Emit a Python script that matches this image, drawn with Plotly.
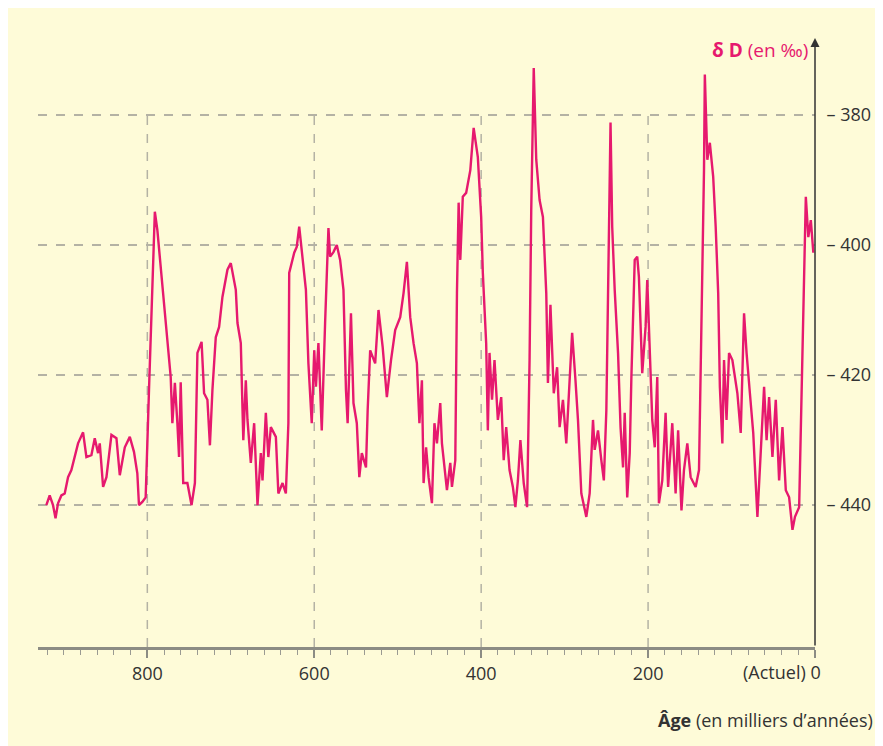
import plotly.graph_objects as go

# Age (thousands of years before present)
age = [921,917,913,910,907,903,899,895,891,887,883,877,873,867,863,859,857,853,849,843,
       837,833,827,821,816,812,810,806,802,798,794,791,788,784,780,776,772,770,767,764,
       762,760,757,752,747,743,740,735,732,728,725,722,718,714,710,704,700,694,
       692,688,685,682,680,676,672,668,664,662,658,655,652,646,643,638,634,631,630,624,
       621,618,615,610,607,603,600,598,595,591,587,583,581,577,573,569,565,562,560,556,
       553,549,546,543,538,536,533,527,523,518,513,508,503,497,493,489,485,481,477,474,
       471,469,466,463,459,456,453,449,447,441,437,435,431,429,427,425,422,418,413,409,
       404,400,398,394,392,390,387,384,380,376,373,370,366,362,359,356,353,349,345,342,
       340,337,334,330,326,322,320,317,313,309,306,302,298,296,291,287,284,280,274,270,
       266,264,260,256,253,250,248,245,243,240,236,233,230,228,225,222,220,216,213,211,
       207,203,201,197,195,192,189,187,183,179,176,171,167,164,160,157,153,149,143,139,
       136,133,132,129,126,122,119,116,114,111,109,106,103,99,93,89,85,82,78,74,
       69,65,61,58,55,51,47,43,39,35,31,27,24,19,16,13,11,8,5,2]

# Deuterium ratio δD (‰)
delta_d = [-440,-438.5,-440,-442,-439.7,-438.5,-438.2,-435.7,-434.6,-432.6,
           -430.5,-428.8,-432.6,-432.3,-429.7,-432,-430.5,-437.2,-435.7,-429.2,
           -429.7,-435.4,-431.1,-429.5,-431.8,-435.1,-440,-439.5,-438.8,-422.3,
           -408,-394.9,-397.7,-403.4,-408.9,-415.7,-420.3,-427.4,-421.2,-427.4,
           -432.6,-421.1,-436.6,-436.6,-440,-436.6,-416.6,-414.9,-422.8,-423.8,
           -430.8,-422.3,-414.2,-412.6,-408,-403.8,-402.8,-406.9,
           -412,-415.1,-430,-420.8,-426.9,-433.5,-427.4,-440,-432,-436.2,
           -425.8,-432.6,-428,-429.5,-438.2,-436.6,-438.2,-427.4,-404.3,-401.2,
           -400.3,-397.2,-400.8,-406.9,-418.2,-427.4,-416.2,-421.8,-415.1,-428.5,
           -412,-397.4,-401.8,-401.1,-400,-402.3,-406.9,-422.3,-427.4,-410.5,
           -424.3,-427.4,-435.7,-432,-434.2,-425.4,-416.2,-418.2,-410,-415.7,
           -423.4,-417.7,-413.1,-411.1,-407.4,-402.6,-411.1,-415.1,-418.2,-427.4,
           -420.8,-436.6,-431.1,-435.7,-439.7,-427.4,-430.5,-424.3,-430.5,-437.7,
           -433.5,-437.2,-433.1,-407.4,-393.5,-402.3,-392.6,-392,-388.5,-382,
           -386.5,-395.7,-404.3,-415.1,-428.5,-416.6,-423.8,-417.7,-426.9,-423.4,
           -433.1,-428,-434.6,-437.2,-440.3,-436.2,-430,-436.6,-440.3,-417.7,
           -394.6,-372.8,-386.9,-393.1,-395.7,-407.4,-421.2,-409.2,-422.8,-418.8,
           -428,-423.8,-430.5,-425.4,-413.5,-420.8,-426.9,-438.2,-441.8,-438.2,
           -426.9,-431.5,-428.5,-433.1,-436.2,-425.4,-407.4,-381.2,-397.2,-406.9,
           -416.6,-428,-434.2,-425.8,-438.8,-432,-420.3,-402.3,-401.8,-404.9,
           -419.7,-412.6,-405.4,-420.3,-426.9,-431.1,-420.3,-439.7,-436.2,-425.8,
           -437.2,-427.4,-438.2,-428.5,-440.8,-434.6,-430.5,-435.7,-437.2,-434.6,
           -412.6,-388.5,-373.8,-386.9,-384.3,-389.5,-397.2,-407.4,-421.8,-430.5,
           -417.7,-426.9,-416.6,-417.7,-422.8,-428.9,-410.5,-416.6,-422.8,-428.9,
           -441.8,-431.5,-421.8,-430,-423.4,-432.6,-423.8,-436.2,-428,-437.7,
           -438.8,-443.8,-441.8,-440.3,-420.3,-402.3,-392.6,-398.8,-396.2,-401.2]

x_ticks = [800, 600, 400, 200, 0]
x_ticklabels = ["800", "600", "400", "200", ""]
y_ticks = [-380, -400, -420, -440]
y_ticklabels = ["– 380", "– 400", "– 420", "– 440"]

X_RANGE = [931, 0]
Y_RANGE = [-461.8, -368.5]
PINK = "#E6196E"
CREAM = "#FEFBD8"
GRID = "#B4B2A4"
FONT = "Open Sans"

fig = go.Figure()
fig.add_trace(go.Scatter(x=age, y=delta_d, mode="lines",
                         line=dict(color=PINK, width=2.4), hoverinfo="skip",
                         showlegend=False))

shapes = [
    dict(type="rect", xref="paper", yref="paper", x0=-0.041, x1=1.1, y0=-0.2, y1=1.056,
         fillcolor=CREAM, line=dict(color="#DCDCD0", width=1), layer="below"),
]
for xv in x_ticks[:-1]:
    shapes.append(dict(type="line", xref="x", yref="y", x0=xv, x1=xv,
                       y0=Y_RANGE[0], y1=y_ticks[0],
                       line=dict(color=GRID, width=1.5, dash="dash"), layer="below"))

fig.update_layout(
    width=875, height=738,
    margin=dict(l=30, r=65, t=32, b=99),
    paper_bgcolor="white", plot_bgcolor=CREAM,
    font=dict(family=FONT, color="#333333", size=18),
    shapes=shapes,
    xaxis=dict(range=X_RANGE, tickvals=x_ticks, ticktext=x_ticklabels,
               showgrid=False, zeroline=False,
               showline=True, linecolor="#8C8C84", linewidth=3,
               ticks="outside", ticklen=8, tickcolor="#8C8C84", tickwidth=1.5,
               minor=dict(dtick=20, ticks="outside", ticklen=5, tickcolor="#9A9A92", tickwidth=1.2),
               tickfont=dict(size=18, color="#333333")),
    yaxis=dict(range=Y_RANGE, side="right", tickvals=y_ticks, ticktext=y_ticklabels,
               showgrid=True, gridcolor=GRID, griddash="dash", gridwidth=1.5,
               zeroline=False, showline=False,
               ticks="outside", ticklen=7, tickcolor="rgba(0,0,0,0)",
               tickfont=dict(size=18, color="#333333")),
    annotations=[
        dict(x=0, y=Y_RANGE[1] + 0.3, ax=0, ay=Y_RANGE[0], xref="x", yref="y",
             axref="x", ayref="y", text="", showarrow=True, arrowhead=2,
             arrowsize=1.2, arrowwidth=1.5, arrowcolor="#333333"),
        dict(x=0, y=Y_RANGE[1], xref="x", yref="y", xanchor="right", yanchor="top",
             xshift=-5, yshift=5, showarrow=False,
             text="<b>δ D</b> (en ‰)", font=dict(color=PINK, size=19)),
        dict(x=0, y=0, xref="x", yref="paper", xanchor="right", yanchor="top",
             xshift=8, yshift=-11, showarrow=False, text="(Actuel) 0",
             font=dict(size=18, color="#333333")),
        dict(x=1.077, y=-0.098, xref="paper", yref="paper", xanchor="right", yanchor="top",
             showarrow=False, text="<b>Âge</b> (en milliers d’années)",
             font=dict(size=18, color="#333333")),
    ],
)

fig.write_html("out.html")
